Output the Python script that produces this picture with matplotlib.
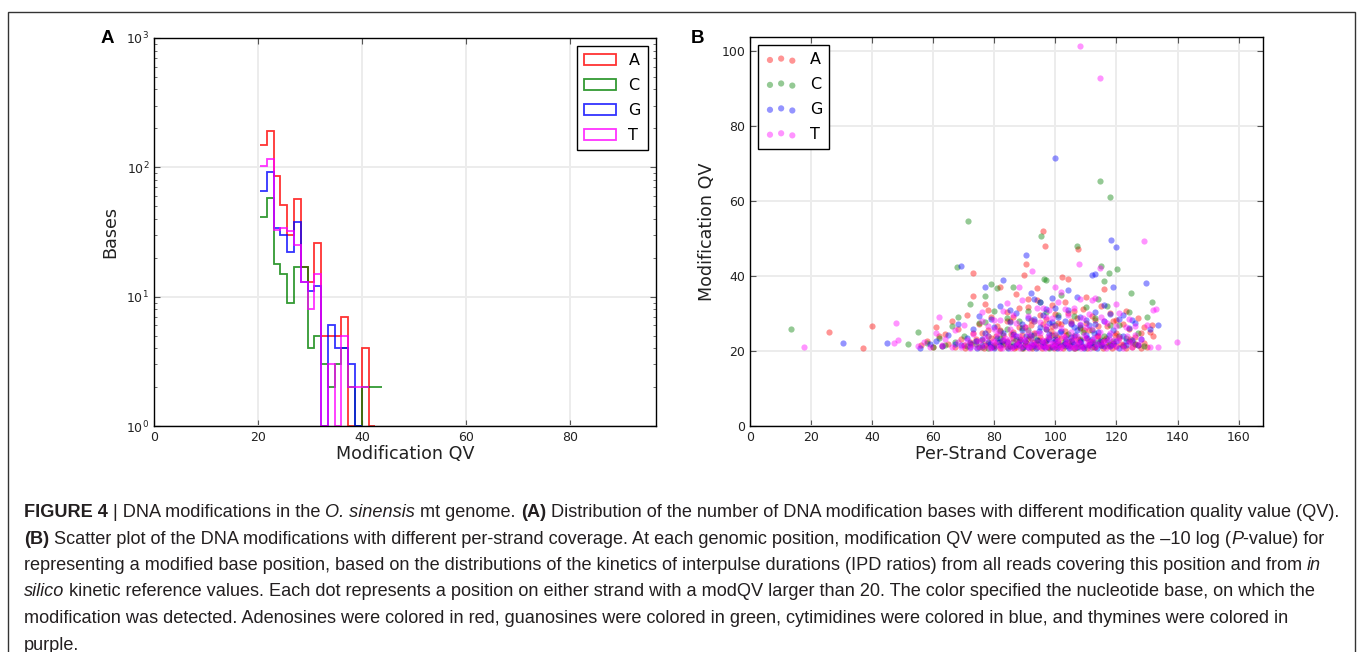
import numpy as np
import matplotlib
matplotlib.use("Agg")
import matplotlib.pyplot as plt
from matplotlib.patches import Rectangle

# ---------------- data ----------------
bases = ["A", "C", "G", "T"]

# Panel A: histogram bin edges (Modification QV) and counts per base
bin_edges = [20.38, 21.68, 22.99, 24.29, 25.60, 26.90, 28.20, 29.51, 30.81, 32.12,
             33.42, 34.73, 36.03, 37.33, 38.64, 39.94, 41.25, 42.55, 43.85]
counts_A = [150, 190, 86, 51, 30, 57, 17, 13, 26, 5, 5, 5, 7, 1, 1, 4, 1, 0]
counts_C = [41, 58, 18, 15, 9, 17, 17, 4, 5, 3, 2, 3, 4, 2, 1, 2, 2, 2]
counts_G = [66, 92, 34, 30, 22, 38, 13, 11, 12, 1, 6, 4, 4, 3, 1, 0, 0, 0]
counts_T = [102, 115, 33, 34, 32, 25, 13, 8, 15, 1, 3, 1, 5, 2, 2, 2, 0, 0]

# Panel B: (per-strand coverage, modification QV) per base
points_A = [(25.9, 25.2), (37.0, 20.8), (40.0, 26.7), (56, 21.5), (58, 22.8), (60, 21.2), (61, 26.3),
            (62, 23.9), (63, 21.4), (64, 24.5), (65, 22.0), (66, 28.0), (67, 21.1), (68, 25.8),
            (69, 23.2), (70, 21.6), (71, 29.5), (72, 22.4), (73, 34.8), (73, 24.9), (73.0, 40.9),
            (75, 21.0), (75, 27.3), (76, 22.9), (77, 32.6), (77, 21.5), (78, 25.6), (79, 23.6),
            (79, 29.0), (80, 21.2), (81, 22.3), (81, 26.8), (82, 37.0), (83, 21.8), (83, 24.2),
            (84, 30.5), (84, 22.6), (85, 21.3), (85, 27.9), (86, 23.4), (86, 25.1), (87, 21.1),
            (88, 22.8), (88, 31.4), (89, 24.4), (90, 21.6), (90, 26.3), (91, 23.1), (89.8, 40.2),
            (91, 34.0), (92, 21.3), (92, 28.4), (90.5, 43.1), (93, 22.5), (93, 24.9), (94, 21.0),
            (95, 23.8), (95, 29.6), (96, 21.7), (94, 36.8), (97, 22.9), (97, 26.0), (98, 21.2),
            (95.9, 52.0), (96.5, 48.1), (99, 24.3), (99, 32.2), (100, 21.5), (100, 22.7), (101, 27.5),
            (101, 21.1), (102, 23.6), (103, 21.9), (103, 25.4), (104, 30.1), (104, 22.4), (105, 21.3),
            (102.3, 39.8), (106, 24.0), (104.1, 39.3), (107, 21.8), (107, 28.7), (108, 22.9),
            (108, 26.2), (109, 21.2), (110, 23.5), (107.4, 47.1), (110, 34.5), (111, 21.6),
            (111, 25.7), (112, 22.5), (112, 29.3), (113, 21.1), (114, 24.1), (115, 21.9), (115, 32.0),
            (116, 23.0), (117, 21.4), (117, 26.6), (116, 36.5), (119, 22.2), (119, 28.1), (120, 21.3),
            (120, 24.8), (121, 23.4), (122, 21.7), (123, 30.6), (124, 22.6), (124, 25.9), (125, 21.2),
            (126, 23.7), (127, 21.6), (128, 24.7), (129, 22.1), (130, 21.0), (129, 26.4), (131.8, 27.0),
            (131, 25.0), (132, 24.1),
            (70.5, 20.8), (72.5, 21.9), (74, 23.1), (76.5, 20.9), (78, 22.1), (79.5, 21.3), (80.5, 23.9),
            (82, 20.7), (82.5, 22.6), (84, 21.1), (85.5, 24.5), (86.5, 20.9), (87.5, 22.0), (88.5, 23.3),
            (89.5, 20.8), (90.5, 22.2), (91.5, 24.0), (92.5, 20.9), (93.5, 21.8), (94.5, 23.0),
            (95.5, 20.7), (96.5, 22.4), (97.5, 21.1), (98.5, 25.3), (99.5, 20.8), (100.5, 23.7),
            (101.5, 22.0), (102.5, 20.9), (103.5, 24.4), (104.5, 21.6), (105.5, 22.9), (106.5, 20.8),
            (107.5, 23.1), (108.5, 21.4), (109.5, 25.6), (110.5, 20.9), (111.5, 22.7), (112.5, 21.2),
            (113.5, 24.0), (114.5, 22.3), (115.5, 20.8), (116.5, 23.4), (117.5, 22.0), (118.5, 20.9),
            (119.5, 24.3), (121.5, 21.9), (123, 20.8), (124.5, 23.2), (126, 22.0), (128, 20.9),
            (92, 26.9), (97, 28.5), (102, 27.3), (88, 26.4), (84, 28.0), (110, 27.6), (114, 26.6),
            (120, 28.4), (106, 30.6), (100, 30.0), (76, 24.8), (82, 25.5),
            (78, 30.9), (86, 29.1), (91, 31.8), (96, 27.2), (99, 26.7), (105, 28.1), (109, 31.3),
            (113, 28.3), (118, 30.2), (122, 27.1), (127, 28.8), (94, 33.7), (103, 33.1), (87, 35.2)]
points_C = [(13.3, 26.0), (51.8, 21.8), (54.9, 25.0), (58, 22.2), (60, 21.1), (62, 23.5), (64, 21.6),
            (66, 26.8), (67, 22.3), (68, 29.0), (67.7, 42.3), (70, 24.1), (71, 21.4), (72, 32.5),
            (71.5, 54.8), (74, 22.7), (75, 27.6), (76, 21.2), (77, 34.6), (78, 23.9), (79, 37.8),
            (80, 21.7), (81, 36.8), (82, 25.3), (83, 22.0), (84, 28.7), (85, 21.3), (86, 37.0),
            (87, 23.2), (88, 21.6), (89, 26.1), (90, 22.5), (91, 30.7), (92, 21.2), (93, 24.4),
            (94, 22.9), (95, 33.2), (96, 21.5), (97, 39.0), (95.3, 50.8), (98, 23.8), (96.3, 39.3),
            (99, 21.3), (100, 27.0), (101, 22.1), (102, 35.0), (103, 21.4), (104, 24.6), (105, 22.8),
            (106, 29.4), (107, 21.2), (108, 23.3), (107.0, 47.9), (110, 31.8), (111, 21.9), (112, 25.5),
            (113, 22.4), (114, 33.9), (115, 21.5), (116, 24.0), (114.7, 65.3), (115.0, 42.6),
            (116, 38.6), (119, 22.7), (117.7, 40.8), (118.0, 61.2), (121, 26.9), (122, 21.3),
            (120.3, 41.8), (123, 23.6), (124.9, 35.5), (126, 21.8), (127, 24.9), (129, 21.4),
            (131.8, 33.1), (130, 29.0),
            (74, 21.8), (78, 20.9), (82, 23.6), (86, 22.3), (89, 20.8), (92, 23.5), (95, 22.1),
            (98, 20.9), (100, 24.3), (103, 22.6), (106, 20.8), (109, 25.0), (112, 21.0), (115, 23.0),
            (118, 21.6), (121, 24.1), (125, 22.5), (88, 28.0), (97, 30.5), (105, 27.5), (113, 28.9),
            (80, 30.8), (91, 25.6), (118, 27.0),
            (84, 26.0), (93, 27.9), (101, 29.6), (108, 26.4), (117, 31.9), (77, 27.8), (124, 30.4)]
points_G = [(30.6, 22.1), (45.0, 22.1), (55.8, 20.7), (59, 21.8), (61, 22.6), (63, 21.3), (65, 24.2),
            (67, 22.0), (68, 27.1), (69, 21.5), (69.1, 42.8), (71, 23.6), (72, 21.2), (73, 25.9),
            (74, 22.8), (75, 29.4), (76, 21.6), (77, 24.7), (77, 37.2), (78, 22.3), (79, 21.1),
            (80, 26.5), (81, 23.4), (82, 31.9), (82, 21.7), (83, 24.8), (84, 22.5), (83.0, 38.9),
            (85, 27.8), (86, 21.3), (87, 30.2), (87, 23.9), (88, 21.8), (89, 25.6), (90, 22.6),
            (91, 21.2), (91, 28.9), (90.5, 45.5), (92, 24.2), (93, 21.5), (93, 33.8), (94, 23.0),
            (95, 26.4), (96, 21.4), (96, 29.7), (97, 22.7), (97, 31.2), (98, 24.5), (99, 21.2),
            (99, 27.7), (100, 23.1), (101, 21.6), (101, 29.0), (99.9, 71.4), (102, 25.3), (103, 22.2),
            (104, 36.3), (104, 21.4), (105, 27.2), (105, 23.8), (106, 21.9), (107, 34.4), (107, 25.6),
            (108, 22.4), (108, 29.2), (109, 21.3), (110, 24.2), (111, 26.9), (111, 21.7), (112, 23.3),
            (113, 30.4), (113, 22.0), (112, 40.3), (114, 25.1), (115, 21.5), (113.0, 40.6), (116, 27.9),
            (117, 23.0), (118, 21.4), (119, 25.6), (120, 22.6), (119, 37.0), (118.3, 49.6), (121, 28.5),
            (119.9, 47.7), (122, 24.0), (123, 21.6), (124, 26.2), (125, 22.9), (126, 27.4), (127, 21.5),
            (128, 23.2), (129.7, 38.2), (131, 26.0), (133.5, 26.9),
            (72, 22.1), (74.5, 20.9), (76, 23.2), (78.5, 21.9), (80, 20.8), (81.5, 22.4), (83, 23.0),
            (84.5, 20.9), (86, 24.5), (87, 21.5), (88.5, 22.9), (89.5, 21.0), (90.5, 24.1), (92, 22.0),
            (93.5, 20.8), (94.5, 25.4), (95.5, 22.3), (96.5, 21.0), (98, 23.3), (99.5, 22.3),
            (100.5, 20.9), (101.5, 25.0), (102.5, 21.6), (103.5, 23.1), (104.5, 20.8), (105.5, 22.5),
            (106.5, 24.2), (107.5, 21.1), (108.5, 22.8), (109.5, 20.9), (110.5, 23.5), (111.5, 21.8),
            (112.5, 24.7), (113.5, 20.9), (114.5, 22.6), (116, 21.3), (117.5, 24.4), (119, 22.0),
            (121, 20.9), (123, 22.7), (98, 27.5), (103, 28.0), (93, 28.5), (108, 26.9), (113, 27.3),
            (100, 31.5), (95, 33.0), (118, 30.0), (89, 27.3), (122, 29.5),
            (79, 28.6), (85, 31.0), (97, 26.0), (104, 30.9), (110, 28.2), (116, 32.4), (92, 35.6),
            (99, 34.1), (125, 28.3), (106, 26.5)]
points_T = [(17.7, 21.1), (47.1, 22.1), (47.9, 27.4), (48.5, 22.9), (55, 21.3), (57, 22.5), (59, 21.0),
            (61, 24.8), (62, 29.2), (63, 21.7), (64, 23.2), (66, 21.2), (67, 25.5), (68, 22.4),
            (69, 21.0), (70, 27.0), (71, 23.0), (72, 21.5), (73, 24.6), (74, 21.1), (75, 22.8),
            (76, 30.3), (77, 21.4), (78, 23.9), (78, 26.7), (79, 21.2), (80, 22.4), (80, 28.3),
            (81, 24.6), (82, 21.0), (83, 22.9), (83, 30.7), (84, 21.6), (85, 25.8), (85, 23.3),
            (86, 21.2), (87, 22.4), (87, 27.5), (88, 24.0), (89, 21.3), (89, 33.6), (90, 22.9),
            (88, 37.1), (91, 21.1), (91, 25.2), (92, 23.7), (93, 21.6), (93, 28.0), (94, 22.4),
            (92.3, 41.3), (95, 21.0), (95, 24.8), (96, 22.8), (96, 31.4), (97, 21.4), (97, 26.6),
            (98, 23.5), (98, 21.0), (99, 22.1), (99, 28.8), (100, 24.5), (100, 21.3), (101, 22.9),
            (101, 33.0), (102, 21.1), (102, 26.1), (103, 23.8), (103, 21.5), (104, 22.4), (104, 29.7),
            (105, 21.0), (105, 25.0), (106, 22.7), (106, 31.6), (107, 21.4), (107, 24.1), (108, 22.1),
            (108, 27.2), (109, 21.2), (110, 23.6), (107.9, 43.3), (108.1, 101.4), (111, 21.7),
            (111, 30.0), (112, 22.8), (112, 25.9), (113, 21.1), (114, 23.9), (113, 34.2), (115, 21.6),
            (116, 22.6), (116, 28.1), (114.7, 92.9), (114.7, 42.1), (118, 21.3), (118, 24.9),
            (119, 22.9), (120, 21.1), (120, 32.6), (121, 23.7), (122, 21.6), (123, 26.3), (124, 22.4),
            (125, 21.2), (126, 24.4), (127, 21.8), (128, 23.1), (130, 27.0), (129.1, 49.3),
            (131, 21.0), (132, 31.0), (132.9, 31.1), (133.5, 21.1), (139.9, 22.3),
            (70, 21.6), (72, 20.8), (74, 22.6), (75.5, 21.2), (77, 23.4), (78.5, 20.7), (79.5, 22.8),
            (81, 21.5), (81.5, 25.4), (82.5, 20.8), (83.5, 23.6), (84.5, 22.1), (85.5, 20.7), (86.5, 24.3),
            (87.5, 21.7), (88.5, 20.9), (89.5, 23.2), (90.5, 21.8), (91.5, 20.7), (92.5, 22.5),
            (93.5, 24.8), (94.5, 21.3), (95.5, 22.9), (96.5, 20.8), (97.5, 23.9), (98.5, 22.0),
            (99.5, 21.1), (100.5, 22.7), (101.5, 20.8), (102.5, 24.0), (103.5, 22.3), (104.5, 21.2),
            (105.5, 23.5), (106.5, 21.0), (107.5, 22.6), (108.5, 20.8), (109.5, 24.2), (110.5, 22.0),
            (111.5, 20.9), (112.5, 23.6), (113.5, 21.8), (114.5, 25.2), (115.5, 22.4), (116.5, 20.8),
            (117.5, 23.1), (119, 21.9), (120.5, 22.9), (122, 20.9), (123.5, 24.1), (125, 22.3),
            (90, 26.5), (95, 27.8), (100, 26.8), (105, 27.6), (110, 26.5), (86, 29.6), (98, 30.9),
            (115, 29.0), (120, 26.6), (80, 25.9), (124, 28.5), (94, 31.5), (102, 35.8), (108, 33.8),
            (96, 21.6), (101, 21.9), (106, 20.9), (111, 22.3), (88, 22.2), (92, 21.4),
            (76, 27.9), (82, 28.4), (91, 29.3), (97, 29.1), (103, 31.2), (109, 28.9), (117, 27.4),
            (121, 30.1), (84, 32.8), (112, 33.6), (100, 37.2), (126, 26.8)]

hist_colors = ["#ff0000", "#008000", "#0000ff", "#ff00ff"]
scat_colors = ["#ff0000", "#008000", "#0000ff", "#ff00ff"]

# ---------------- figure ----------------
W, H = 1357, 652
fig = plt.figure(figsize=(W / 100, H / 100), dpi=100)
plt.rcParams["font.family"] = ["DejaVu Sans"]


def ax_rect(l, t, r, b):
    return [l / W, 1 - b / H, (r - l) / W, (b - t) / H]


axA = fig.add_axes(ax_rect(154, 38, 656, 426))
axB = fig.add_axes(ax_rect(750, 37, 1263, 426))

TICK_FS = 9
LABEL_FS = 12.6
LEG_FS = 11.5
GRID_C = "#ececec"

# ---- Panel A ----
centers = [(a + b) / 2 for a, b in zip(bin_edges[:-1], bin_edges[1:])]
for counts, col, lab in zip([counts_A, counts_C, counts_G, counts_T], hist_colors, bases):
    axA.hist(centers, bins=bin_edges, weights=counts, histtype="step", color=col,
             alpha=0.8, lw=1.3, label=lab, log=True)
axA.set_yscale("log", nonpositive="mask")
axA.set_ylim(1, 1000)
axA.set_xlim(0, 96.5)
axA.set_xticks([0, 20, 40, 60, 80])
axA.set_xlabel("Modification QV", fontsize=LABEL_FS, color="#222222", labelpad=0.5)
axA.set_ylabel("Bases", fontsize=LABEL_FS, color="#222222", labelpad=5)
legA = axA.legend(loc="upper right", fontsize=LEG_FS, fancybox=False, framealpha=1,
                  edgecolor="black", handlelength=2.0, borderpad=0.45, labelspacing=0.62)
legA.get_frame().set_linewidth(1.0)

# ---- Panel B ----
for pts, col, lab in zip([points_A, points_C, points_G, points_T], scat_colors, bases):
    xs = [p[0] for p in pts]
    ys = [p[1] for p in pts]
    axB.scatter(xs, ys, s=20, color=col, alpha=0.42, linewidths=0, label=lab)
axB.set_xlim(0, 168)
axB.set_ylim(0, 103.8)
axB.set_xticks(range(0, 161, 20))
axB.set_yticks(range(0, 101, 20))
axB.set_xlabel("Per-Strand Coverage", fontsize=LABEL_FS, color="#222222", labelpad=0.5)
axB.set_ylabel("Modification QV", fontsize=LABEL_FS, color="#222222", labelpad=4)
legB = axB.legend(loc="upper left", fontsize=LEG_FS, fancybox=False, framealpha=1,
                  edgecolor="black", scatterpoints=3, handlelength=2.0, borderpad=0.45,
                  labelspacing=0.62)
legB.get_frame().set_linewidth(1.0)

for ax in (axA, axB):
    ax.set_axisbelow(True)
    ax.grid(True, which="major", color=GRID_C, lw=1.4)
    ax.tick_params(which="both", direction="in", top=True, right=True, labelsize=TICK_FS,
                   labelcolor="#222222", color="#555555")
    ax.tick_params(which="major", length=4, width=0.8)
    ax.tick_params(which="minor", length=2, width=0.6)
    for sp in ax.spines.values():
        sp.set_linewidth(1.0)
        sp.set_color("black")

# panel letters
fig.text(101 / W, 1 - 43 / H, "A", fontsize=13.5, fontweight="bold", family="Liberation Sans")
fig.text(691 / W, 1 - 43 / H, "B", fontsize=13.5, fontweight="bold", family="Liberation Sans")

# outer frame (open at the bottom)
fig.add_artist(Rectangle((8 / W, -0.2), (1355 - 8) / W, 1 - 12 / H + 0.2,
                         transform=fig.transFigure, fill=False, ec="#333333", lw=1.0,
                         clip_on=False))

# ---------------- caption ----------------
N, B_, I_ = "normal", "bold", "italic"
caption_lines = [
    [("FIGURE 4", B_), (" | DNA modifications in the ", N), ("O. sinensis", I_), (" mt genome. ", N),
     ("(A)", B_),
     (" Distribution of the number of DNA modification bases with different modification quality value (QV).", N)],
    [("(B)", B_),
     (" Scatter plot of the DNA modifications with different per-strand coverage. At each genomic position, modification QV were computed as the \u201310 log (", N),
     ("P", I_), ("-value) for", N)],
    [("representing a modified base position, based on the distributions of the kinetics of interpulse durations (IPD ratios) from all reads covering this position and from ", N),
     ("in", I_)],
    [("silico", I_),
     (" kinetic reference values. Each dot represents a position on either strand with a modQV larger than 20. The color specified the nucleotide base, on which the", N)],
    [("modification was detected. Adenosines were colored in red, guanosines were colored in green, cytimidines were colored in blue, and thymines were colored in", N)],
    [("purple.", N)],
]

renderer = fig.canvas.get_renderer()
CAP_FAMILY = "Liberation Sans"
CAP_COLOR = "#231f20"


def kw(style, fs):
    d = dict(fontsize=fs, family=CAP_FAMILY, color=CAP_COLOR)
    if style == B_:
        d["fontweight"] = "bold"
    if style == I_:
        d["fontstyle"] = "italic"
    return d


def seg_width(s, style, fs):
    t1 = fig.text(0, 0, "|" + s + "|", **kw(style, fs))
    w1 = t1.get_window_extent(renderer).width
    t1.remove()
    t2 = fig.text(0, 0, "||", **kw(style, fs))
    w2 = t2.get_window_extent(renderer).width
    t2.remove()
    return w1 - w2


base_fs = 11.0
w_line1 = sum(seg_width(s, st, base_fs) for s, st in caption_lines[0])
cap_fs = base_fs * (1316.0 / w_line1)

x0 = 24.0
y0 = 517.0
dy = 26.5
for i, line in enumerate(caption_lines):
    x = x0
    y = y0 + i * dy
    for s, st in line:
        fig.text(x / W, 1 - y / H, s, va="baseline", ha="left", **kw(st, cap_fs))
        x += seg_width(s, st, cap_fs)

fig.savefig("out.png", dpi=100)
